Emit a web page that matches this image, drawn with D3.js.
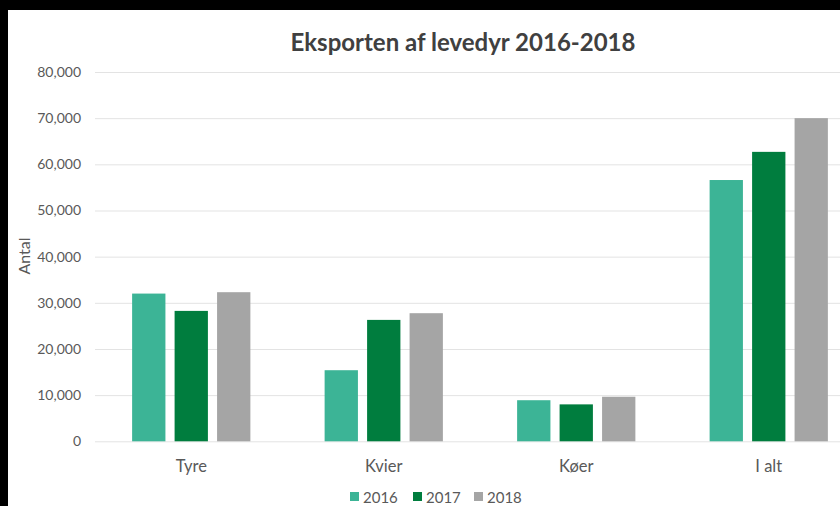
<!DOCTYPE html>
<html lang="da">
<head>
  <meta charset="UTF-8">
  <title>Eksporten af levedyr 2016-2018</title>
  <script src="https://cdn.jsdelivr.net/npm/d3@7"></script>
  <style>
    html, body {
      margin: 0;
      padding: 0;
      background: #000;
    }

    .tick text,
    .catLabel,
    .axisTitle {
      fill: #595959;
      font-family: Lato, "Open Sans", sans-serif;
    }
  </style>
</head>
<body>
  <div class="chart"></div>

  <script>
    // data
    const categories = ["Tyre", "Kvier", "Køer", "I alt"];
    const years = ["2016", "2017", "2018"];
    const values2016 = [32000, 15400, 8900, 56600];
    const values2017 = [28250, 26300, 8000, 62700];
    const values2018 = [32300, 27750, 9650, 70000];
    const yTicks = [0, 10000, 20000, 30000, 40000, 50000, 60000, 70000, 80000];
    const colors = ["#3cb496", "#007d3e", "#a5a5a5"];

    const series = [values2016, values2017, values2018];
    const rows = categories.map(function(c, i) {
      return { cat: c, vals: series.map(function(s) { return s[i] }) };
    });

    const svg = d3.select(".chart")
      .append("svg")
      .attr("width", 840)
      .attr("height", 506)
      .style("display", "block");

    // white chart area inside the black frame
    svg.append("rect")
      .attr("x", 8).attr("y", 10)
      .attr("width", 832).attr("height", 496)
      .attr("fill", "#fff");

    const x0 = d3.scaleBand()
      .domain(categories)
      .range([95, 865])
      .paddingInner(0.338)
      .paddingOuter(0.169);

    const x1 = d3.scaleBand()
      .domain(years)
      .range([0, x0.bandwidth()])
      .paddingInner(0.216)
      .paddingOuter(0.108);

    const y = d3.scaleLinear()
      .domain([0, 80000])
      .range([441.3, 72]);

    // gridlines + tick labels
    const yAxis = svg.append("g")
      .call(d3.axisLeft(y)
        .tickValues(yTicks)
        .tickFormat(d3.format(","))
        .tickSize(-770)
        .tickPadding(14))
      .attr("transform", "translate(95,0)");
    yAxis.select(".domain").remove();
    yAxis.selectAll(".tick line").attr("stroke", "#e3e3e3").attr("stroke-width", 1);
    yAxis.selectAll(".tick text").attr("font-size", 14);

    // bars
    const groups = svg.selectAll(".grp")
      .data(rows)
      .enter()
      .append("g")
      .attr("class", "grp")
      .attr("transform", function(d) { return "translate(" + x0(d.cat) + ",0)" });

    groups.selectAll("rect")
      .data(function(d) { return d.vals.map(function(v, i) { return { year: years[i], v: v, i: i } }) })
      .enter()
      .append("rect")
      .attr("x", function(d) { return x1(d.year) })
      .attr("width", x1.bandwidth())
      .attr("y", function(d) { return y(d.v) })
      .attr("height", function(d) { return y(0) - y(d.v) })
      .attr("fill", function(d) { return colors[d.i] });

    // category labels
    svg.selectAll(".catLabel")
      .data(categories)
      .enter()
      .append("text")
      .attr("class", "catLabel")
      .attr("x", function(d) { return x0(d) + x0.bandwidth() / 2 })
      .attr("y", 471.5)
      .attr("text-anchor", "middle")
      .attr("font-size", 16.5)
      .text(function(d) { return d });

    // title
    svg.append("text")
      .attr("x", 463)
      .attr("y", 50.5)
      .attr("text-anchor", "middle")
      .attr("font-family", "Lato, 'Open Sans', sans-serif")
      .attr("font-weight", "bold")
      .attr("font-size", 24)
      .attr("fill", "#404040")
      .text("Eksporten af levedyr 2016-2018");

    // y axis title
    svg.append("text")
      .attr("class", "axisTitle")
      .attr("transform", "translate(30,256) rotate(-90)")
      .attr("text-anchor", "middle")
      .attr("font-size", 16)
      .text("Antal");

    // legend
    const legendX = [350, 413, 474];
    const legend = svg.selectAll(".legend")
      .data(years)
      .enter()
      .append("g")
      .attr("class", "legend")
      .attr("transform", function(d, i) { return "translate(" + legendX[i] + ",492)" });

    legend.append("rect")
      .attr("width", 9)
      .attr("height", 9)
      .attr("fill", function(d, i) { return colors[i] });

    legend.append("text")
      .attr("x", 13)
      .attr("y", 10.5)
      .attr("font-family", "Lato, 'Open Sans', sans-serif")
      .attr("font-size", 15)
      .attr("fill", "#595959")
      .text(function(d) { return d });
  </script>
</body>
</html>
